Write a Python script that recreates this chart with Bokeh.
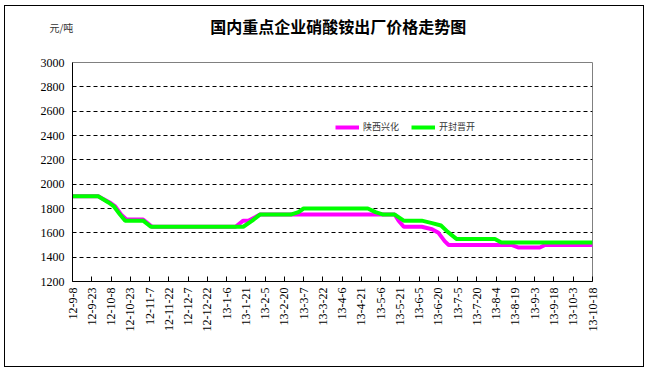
from math import pi
from bokeh.plotting import figure
from bokeh.models import (Range1d, FixedTicker, Label, Legend, LegendItem, ColumnDataSource)
from bokeh.embed import file_html
from bokeh.resources import INLINE

# ---- data ----
tick_labels = ["12-9-8", "12-9-23", "12-10-8", "12-10-23", "12-11-7", "12-11-22",
               "12-12-7", "12-12-22", "13-1-6", "13-1-21", "13-2-5", "13-2-20",
               "13-3-7", "13-3-22", "13-4-6", "13-4-21", "13-5-6", "13-5-21",
               "13-6-5", "13-6-20", "13-7-5", "13-7-20", "13-8-4", "13-8-19",
               "13-9-3", "13-9-18", "13-10-3", "13-10-18"]
tick_days = [i * 15 for i in range(len(tick_labels))]   # days since 2012-09-08

# 陕西兴化 (magenta): day offset, price
sx_days = [0, 20, 29, 33, 38, 42, 55, 62, 127, 133, 137, 146, 242, 251, 254, 258,
           272, 280, 285, 290, 293, 342, 347, 364, 368, 405]
sx_vals = [1900, 1900, 1850, 1820, 1750, 1710, 1710, 1650, 1650, 1700, 1700, 1750,
           1750, 1750, 1700, 1650, 1650, 1630, 1600, 1530, 1500, 1500, 1480, 1480,
           1500, 1500]

# 开封晋开 (green)
kf_days = [0, 20, 28, 32, 37, 41, 55, 61, 133, 140, 146, 170, 176, 180, 230, 236,
           242, 251, 258, 272, 280, 287, 292, 299, 329, 334, 405]
kf_vals = [1900, 1900, 1850, 1820, 1750, 1700, 1700, 1650, 1650, 1700, 1750, 1750,
           1770, 1800, 1800, 1770, 1750, 1750, 1700, 1700, 1680, 1660, 1610, 1550,
           1550, 1520, 1520]

y_ticks = [1200, 1400, 1600, 1800, 2000, 2200, 2400, 2600, 2800, 3000]
grid_ticks = [1400, 1600, 1800, 2000, 2200, 2400, 2600, 2800]

title_text = "国内重点企业硝酸铵出厂价格走势图"
unit_text = "元/吨"
names = ["陕西兴化", "开封晋开"]
colors = ["#FF00FF", "#00FF00"]

p = figure(width=640, height=362, output_backend="svg", toolbar_location=None,
           x_range=Range1d(0, tick_days[-1]), y_range=Range1d(y_ticks[0], y_ticks[-1]),
           min_border_left=67, min_border_right=53, min_border_top=56, min_border_bottom=87)
p.styles = {"border": "1px solid #000000", "box-sizing": "border-box",
            "margin-left": "4px", "margin-top": "5px"}
p.outline_line_color = "#808080"
p.background_fill_color = "white"
p.border_fill_color = "white"

# title and unit, placed in the top panel (not clipped to the frame)
p.add_layout(Label(x=207, y=3296, text=title_text,
                   text_font="Noto Sans CJK SC", text_font_style="bold",
                   text_font_size="16px", text_align="center", text_baseline="middle",
                   text_color="black"), "above")
p.add_layout(Label(x=-18, y=3290, text=unit_text,
                   text_font="Noto Sans CJK SC", text_font_size="10px",
                   text_align="left", text_baseline="middle", text_color="#333333"), "above")

src_sx = ColumnDataSource(dict(x=sx_days, y=sx_vals))
src_kf = ColumnDataSource(dict(x=kf_days, y=kf_vals))
r1 = p.line("x", "y", source=src_sx, line_color=colors[0], line_width=4)
r2 = p.line("x", "y", source=src_kf, line_color=colors[1], line_width=4)

# axes
p.xaxis.ticker = FixedTicker(ticks=tick_days)
p.xaxis.major_label_overrides = {d: l for d, l in zip(tick_days, tick_labels)}
p.xaxis.major_label_orientation = pi / 2
p.xaxis.major_tick_in = 5
p.xaxis.major_tick_out = 0
p.xaxis.minor_tick_line_color = None
p.xaxis.axis_line_color = "black"
p.xaxis.major_tick_line_color = "black"
p.xaxis.major_label_standoff = 6

p.yaxis.ticker = FixedTicker(ticks=y_ticks)
p.yaxis.major_tick_in = 0
p.yaxis.major_tick_out = 0
p.yaxis.minor_tick_line_color = None
p.yaxis.axis_line_color = "black"
p.yaxis.major_label_standoff = 8

for ax in (p.xaxis, p.yaxis):
    ax.major_label_text_font = "Liberation Serif"
    ax.major_label_text_font_size = "12px"
    ax.major_label_text_color = "#000000"

p.xgrid.grid_line_color = None
p.ygrid.ticker = FixedTicker(ticks=grid_ticks)
p.ygrid.grid_line_color = "black"
p.ygrid.grid_line_dash = "4 3"
p.ygrid.grid_line_width = 1

legend = Legend(items=[LegendItem(label=names[0], renderers=[r1]),
                       LegendItem(label=names[1], renderers=[r2])],
                location=(263, 148), orientation="horizontal",
                border_line_color=None, background_fill_alpha=0,
                padding=0, margin=0, spacing=12, label_standoff=4,
                glyph_width=24, glyph_height=12,
                label_text_font="Noto Sans CJK SC", label_text_font_size="9px",
                label_text_color="#333333")
p.add_layout(legend, "center")

open("out.html", "w").write(file_html(p, INLINE))
